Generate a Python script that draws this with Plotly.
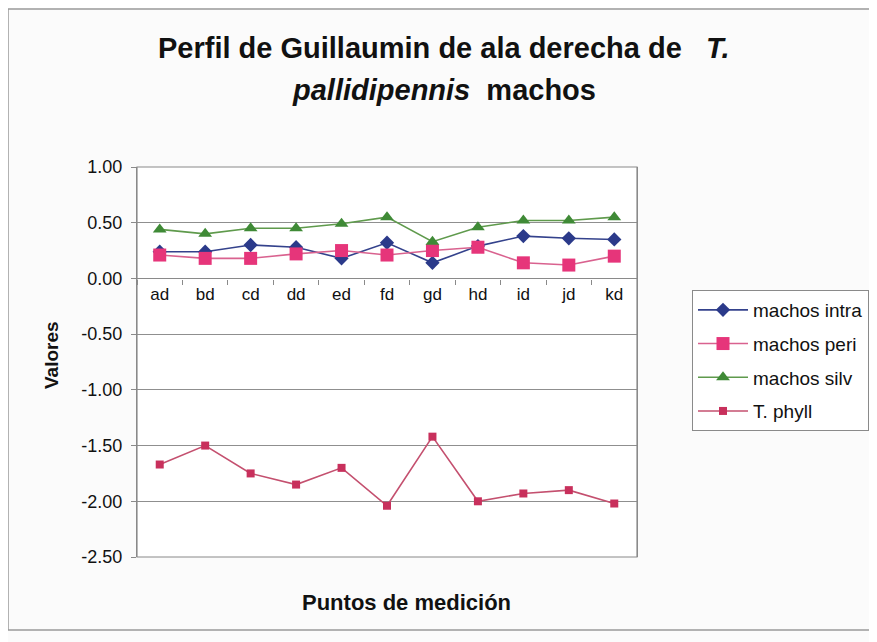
import plotly.graph_objects as go

categories = ["ad", "bd", "cd", "dd", "ed", "fd", "gd", "hd", "id", "jd", "kd"]
machos_intra = [0.24, 0.24, 0.30, 0.28, 0.18, 0.32, 0.14, 0.29, 0.38, 0.36, 0.35]
machos_peri = [0.21, 0.18, 0.18, 0.22, 0.25, 0.21, 0.25, 0.28, 0.14, 0.12, 0.20]
machos_silv = [0.44, 0.40, 0.45, 0.45, 0.49, 0.55, 0.33, 0.46, 0.52, 0.52, 0.55]
t_phyll = [-1.67, -1.50, -1.75, -1.85, -1.70, -2.04, -1.42, -2.00, -1.93, -1.90, -2.02]
y_tickvals = [1.0, 0.5, 0.0, -0.5, -1.0, -1.5, -2.0, -2.5]
y_ticktext = ["1.00", "0.50", "0.00", "-0.50", "-1.00", "-1.50", "-2.00", "-2.50"]

FONT = "Liberation Sans, Arial, sans-serif"

fig = go.Figure()
series = [
    ("machos intra", machos_intra, "#34428c", "#2b3a8a", "diamond", 11),
    ("machos peri", machos_peri, "#d9628f", "#e6357a", "square", 13),
    ("machos silv", machos_silv, "#5f9a4c", "#3f8a36", "triangle-up", 12),
    ("T. phyll", t_phyll, "#c4506f", "#c8305c", "square", 8),
]
for i, (name, vals, lc, mc, sym, ms) in enumerate(series):
    fig.add_trace(go.Scatter(
        x=categories, y=vals, name=name, mode="lines+markers",
        line=dict(color=lc, width=1.6),
        marker=dict(color=mc, symbol=sym, size=ms, line=dict(width=0)),
        legendgroup=f"g{i}",
    ))

# page has an 8px body margin; figure is sized so the page matches 877x642
OFF = 8
W, H = 877 - OFF, 642 - OFF
L = 137 - OFF
T = 167 - OFF
R = W - (637 - OFF)
B = H - (557 - OFF)
pw = W - L - R
ph = H - T - B

def px(xp):
    return (xp - OFF - L) / pw

def py(yp):
    return (H - B - (yp - OFF)) / ph

zero_pos = (0 - (-2.5)) / 3.5

def ann(text, x, y, size, angle=0):
    return dict(text=text, x=px(x), y=py(y), xref="paper", yref="paper",
                xanchor="center", yanchor="middle", textangle=angle,
                showarrow=False, font=dict(size=size, family=FONT, color="#111111"))

fig.update_layout(
    width=W, height=H,
    margin=dict(l=L, r=R, t=T, b=B, autoexpand=False),
    paper_bgcolor="#fbfbfb",
    plot_bgcolor="white",
    font=dict(family=FONT, color="#111111"),
    showlegend=True,
    legend=dict(
        x=px(692), y=py(290), xanchor="left", yanchor="top",
        bgcolor="white", bordercolor="#8a8a8a", borderwidth=1,
        font=dict(size=19, family=FONT, color="#111111"),
        traceorder="grouped", tracegroupgap=6,
        itemwidth=50,
    ),
    xaxis=dict(
        type="category", range=[-0.5, 10.5],
        anchor="free", position=zero_pos,
        showline=True, linecolor="#8a8a8a", linewidth=1.2,
        ticks="outside", ticklen=5, tickcolor="#8a8a8a",
        tickson="boundaries",
        showgrid=False,
        tickfont=dict(size=17, family=FONT, color="#111111"),
    ),
    yaxis=dict(
        range=[-2.5, 1.0],
        tickvals=y_tickvals, ticktext=y_ticktext,
        showline=True, linecolor="#8a8a8a", linewidth=1.2, mirror=True,
        ticks="outside", ticklen=5, tickcolor="#8a8a8a",
        ticklabelstandoff=5,
        showgrid=True, gridcolor="#8f8f8f", gridwidth=1.2,
        zeroline=False,
        tickfont=dict(size=18, family=FONT, color="#111111"),
    ),
    shapes=[
        dict(type="rect", xref="paper", yref="paper", x0=0, x1=1, y0=0, y1=1,
             line=dict(color="#8a8a8a", width=1.2)),
        dict(type="rect", xref="paper", yref="paper",
             x0=px(8), x1=px(895), y0=py(630), y1=py(9),
             line=dict(color="#9a9a9a", width=1.5)),
    ],
    annotations=[
        ann("<b>Perfil de Guillaumin de ala derecha de\u00a0\u00a0\u00a0<i>T.</i></b>", 444, 48, 29),
        ann("<b><i>pallidipennis</i>\u00a0\u00a0machos</b>", 444, 90, 29),
        ann("<b>Valores</b>", 51, 355, 19, -90),
        ann("<b>Puntos de medición</b>", 406, 602, 22),
    ],
)

fig.write_html("out.html")
